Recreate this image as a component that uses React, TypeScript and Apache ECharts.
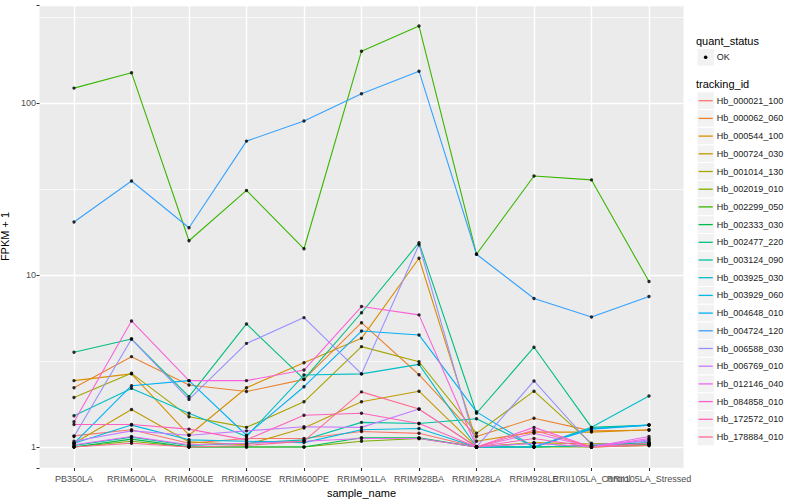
import React, { useEffect, useRef } from "react";
import * as echarts from "echarts";

const categories = [
  "PB350LA", "RRIM600LA", "RRIM600LE", "RRIM600SE", "RRIM600PE", "RRIM901LA",
  "RRIM928BA", "RRIM928LA", "RRIM928LE", "RRII105LA_Control", "RRII105LA_Stressed",
];

const trackingIds = [
  "Hb_000021_100", "Hb_000062_060", "Hb_000544_100", "Hb_000724_030", "Hb_001014_130",
  "Hb_002019_010", "Hb_002299_050", "Hb_002333_030", "Hb_002477_220", "Hb_003124_090",
  "Hb_003925_030", "Hb_003929_060", "Hb_004648_010", "Hb_004724_120", "Hb_006588_030",
  "Hb_006769_010", "Hb_012146_040", "Hb_084858_010", "Hb_172572_010", "Hb_178884_010",
];

const colors = [
  "#F8766D", "#EA8331", "#D89000", "#C09B00", "#A3A500", "#7CAE00", "#39B600", "#00BB4E",
  "#00BF7D", "#00C1A3", "#00BFC4", "#00BAE0", "#00B0F6", "#35A2FF", "#9590FF", "#C77CFF",
  "#E76BF3", "#FA62DB", "#FF62BC", "#FF6C91",
];

// FPKM + 1 per sample (order of categories)
const hb000021_100 = [1.16, 1.26, 1.05, 1.12, 1.12, 1.23, 1.2, 1.0, 1.05, 1.0, 1.03];
const hb000062_060 = [2.21, 3.35, 2.29, 2.1, 2.47, 5.28, 2.63, 1.15, 1.47, 1.24, 1.25];
const hb000544_100 = [2.43, 2.66, 1.17, 2.21, 3.09, 4.28, 12.5, 1.08, 1.22, 1.22, 1.26];
const hb000724_030 = [1.05, 1.65, 1.07, 1.03, 1.29, 1.83, 2.11, 1.0, 1.06, 1.04, 1.05];
const hb001014_130 = [1.94, 2.68, 1.5, 1.3, 1.83, 3.83, 3.13, 1.2, 2.11, 1.05, 1.04];
const hb002019_010 = [1.0, 1.08, 1.0, 1.0, 1.0, 1.08, 1.12, 1.0, 1.0, 1.0, 1.02];
const hb002299_050 = [122, 150, 15.8, 31, 14.2, 200, 280, 13.2, 37.6, 35.7, 9.15];
const hb002333_030 = [1.0, 1.11, 1.0, 1.0, 1.0, 1.13, 1.13, 1.0, 1.0, 1.02, 1.04];
const hb002477_220 = [3.55, 4.24, 1.96, 5.19, 2.48, 6.03, 15.4, 1.57, 3.8, 1.3, 1.34];
const hb003124_090 = [1.02, 1.14, 1.02, 1.05, 1.1, 1.39, 1.37, 1.46, 1.0, 1.02, 1.06];
const hb003925_030 = [1.52, 2.19, 1.57, 1.15, 2.62, 2.66, 3.02, 1.0, 1.0, 1.3, 1.98];
const hb003929_060 = [1.05, 1.34, 1.1, 1.08, 1.06, 1.26, 1.28, 1.0, 1.0, 1.28, 1.34];
const hb004648_010 = [1.05, 2.27, 2.43, 1.17, 2.24, 4.72, 4.48, 1.6, 1.0, 1.27, 1.34];
const hb004724_120 = [20.3, 35.2, 18.8, 60, 78.6, 113, 153, 13.2, 7.3, 5.7, 7.5];
const hb006588_030 = [1.15, 4.24, 1.89, 4.0, 5.65, 2.66, 15.0, 1.0, 2.42, 1.03, 1.08];
const hb006769_010 = [1.08, 1.24, 1.17, 1.24, 1.31, 1.3, 1.66, 1.0, 1.05, 1.0, 1.1];
const hb012146_040 = [1.03, 1.15, 1.03, 1.05, 1.08, 1.12, 1.12, 1.0, 1.2, 1.0, 1.15];
const hb084858_010 = [1.4, 5.4, 2.43, 2.43, 2.8, 6.55, 5.86, 1.0, 1.3, 1.0, 1.12];
const hb172572_010 = [1.35, 1.35, 1.27, 1.1, 1.53, 1.57, 1.37, 1.0, 1.12, 1.0, 1.05];
const hb178884_010 = [1.0, 1.05, 1.0, 1.02, 1.08, 2.09, 1.66, 1.0, 1.25, 1.0, 1.02];

const seriesValues = [
  hb000021_100, hb000062_060, hb000544_100, hb000724_030, hb001014_130,
  hb002019_010, hb002299_050, hb002333_030, hb002477_220, hb003124_090,
  hb003925_030, hb003929_060, hb004648_010, hb004724_120, hb006588_030,
  hb006769_010, hb012146_040, hb084858_010, hb172572_010, hb178884_010,
];

const yTickLabels = [1, 10, 100];
const yMinorGrid = [3.1623, 31.623, 316.23];
const quantStatus = ["OK"];

const FONT = "'Liberation Sans', Arial, Helvetica, sans-serif";

export default function App() {
  const ref = useRef<HTMLDivElement>(null);

  useEffect(() => {
    document.body.style.margin = "0";
    if (!ref.current) return;
    const chart = echarts.init(ref.current, undefined, { renderer: "svg" });

    const all = seriesValues.flat();
    const lmin = Math.log10(Math.min(...all));
    const lmax = Math.log10(Math.max(...all));
    const pad = (lmax - lmin) * 0.05;
    const yMin = Math.pow(10, lmin - pad);
    const yMax = Math.pow(10, lmax + pad);
    const xMin = -0.6;
    const xMax = categories.length - 1 + 0.6;
    const idx = categories.map((_, i) => i);
    const labelIdx = [xMin, ...idx, xMax];

    const lineSeries = seriesValues.map((vals, k) => ({
      name: trackingIds[k],
      type: "line",
      data: vals.map((v, i) => [i, v]),
      showSymbol: false,
      symbol: "none",
      silent: true,
      z: 2,
      lineStyle: { color: colors[k], width: 1.1 },
      itemStyle: { color: colors[k] },
    }));

    const points: number[][] = [];
    seriesValues.forEach((vals) => vals.forEach((v, i) => points.push([i, v])));

    const legendX = 697;
    const keyW = 17.3;
    const keyH = 17.7;
    const firstKey = 100.7;
    const graphics: any[] = [
      {
        type: "text",
        style: { text: "quant_status", x: 696, y: 40.7, fill: "#000", fontSize: 11, fontFamily: FONT, verticalAlign: "middle", textVerticalAlign: "middle" },
      },
      { type: "rect", shape: { x: legendX, y: 48.5, width: keyW, height: keyH }, style: { fill: "#F2F2F2", stroke: "#fff", lineWidth: 1 } },
      { type: "circle", shape: { cx: legendX + keyW / 2, cy: 57.3, r: 1.8 }, style: { fill: "#000" } },
      {
        type: "text",
        style: { text: quantStatus[0], x: 716.7, y: 57.3, fill: "#1a1a1a", fontSize: 9, fontFamily: FONT, verticalAlign: "middle", textVerticalAlign: "middle" },
      },
      {
        type: "text",
        style: { text: "tracking_id", x: 696, y: 84.3, fill: "#000", fontSize: 11, fontFamily: FONT, verticalAlign: "middle", textVerticalAlign: "middle" },
      },
    ];
    trackingIds.forEach((id, k) => {
      const cy = firstKey + k * keyH;
      graphics.push({ type: "rect", shape: { x: legendX, y: cy - keyH / 2, width: keyW, height: keyH }, style: { fill: "#F2F2F2", stroke: "#fff", lineWidth: 1 } });
      graphics.push({ type: "line", shape: { x1: legendX + 1.5, y1: cy, x2: legendX + keyW - 1.5, y2: cy }, style: { stroke: colors[k], lineWidth: 1.3 } });
      graphics.push({
        type: "text",
        style: { text: id, x: 716.7, y: cy, fill: "#1a1a1a", fontSize: 9, fontFamily: FONT, verticalAlign: "middle", textVerticalAlign: "middle" },
      });
    });

    chart.setOption({
      animation: false,
      textStyle: { fontFamily: FONT },
      grid: {
        left: 39.5,
        right: 116.5,
        top: 5,
        bottom: 32,
        show: true,
        backgroundColor: "#EBEBEB",
        borderWidth: 0,
        containLabel: false,
        outerBoundsMode: "none",
      },
      xAxis: {
        type: "value",
        min: xMin,
        max: xMax,
        splitNumber: categories.length,
        minInterval: 1,
        maxInterval: 1,
        axisLine: { show: false, onZero: false },
        axisTick: { show: true, length: 3, customValues: idx, lineStyle: { color: "#333", width: 1 } },
        axisLabel: {
          customValues: labelIdx,
          hideOverlap: false,
          formatter: (v: number) => {
            const r = Math.round(v);
            return Math.abs(r - v) < 1e-6 && categories[r] ? categories[r] : "";
          },
          color: "#4D4D4D",
          fontSize: 9,
          margin: 6,
          fontFamily: FONT,
        },
        splitLine: { show: true, lineStyle: { color: "#FFFFFF", width: 1.4 } },
        name: "sample_name",
        nameLocation: "middle",
        nameGap: 5,
        nameTextStyle: { color: "#000", fontSize: 11, fontFamily: FONT },
      },
      yAxis: {
        type: "log",
        logBase: 10,
        min: yMin,
        max: yMax,
        axisLine: { show: false, onZero: false },
        axisTick: { show: true, length: 3, lineStyle: { color: "#333", width: 1 } },
        axisLabel: {
          formatter: (v: number) => {
            const t = yTickLabels.find((x) => Math.abs(x - v) < 1e-6 * x);
            return t !== undefined ? String(t) : "";
          },
          color: "#4D4D4D",
          fontSize: 9,
          margin: 3.5,
          fontFamily: FONT,
        },
        splitLine: { show: true, lineStyle: { color: "#FFFFFF", width: 1.4 } },
        minorTick: { show: false },
        minorSplitLine: { show: false },
        name: "FPKM + 1",
        nameLocation: "middle",
        nameGap: 4,
        nameRotate: 90,
        nameTextStyle: { color: "#000", fontSize: 11, fontFamily: FONT },
      },
      graphic: graphics,
      series: [
        {
          name: "minor-grid",
          type: "line",
          data: [],
          z: 1,
          silent: true,
          markLine: {
            z: 1,
            silent: true,
            symbol: ["none", "none"],
            label: { show: false },
            lineStyle: { color: "#FFFFFF", width: 0.7, type: "solid" },
            data: yMinorGrid.map((v) => ({ yAxis: v })),
          },
        },
        ...lineSeries,
        {
          name: "quant_status",
          type: "scatter",
          data: points,
          symbol: "circle",
          symbolSize: 3.4,
          z: 3,
          silent: true,
          itemStyle: { color: "#000" },
        },
      ],
    });

    return () => chart.dispose();
  }, []);

  return (
    <div
      ref={ref}
      style={{ position: "absolute", left: 0, top: 0, width: 800, height: 500, background: "#fff" }}
    />
  );
}
